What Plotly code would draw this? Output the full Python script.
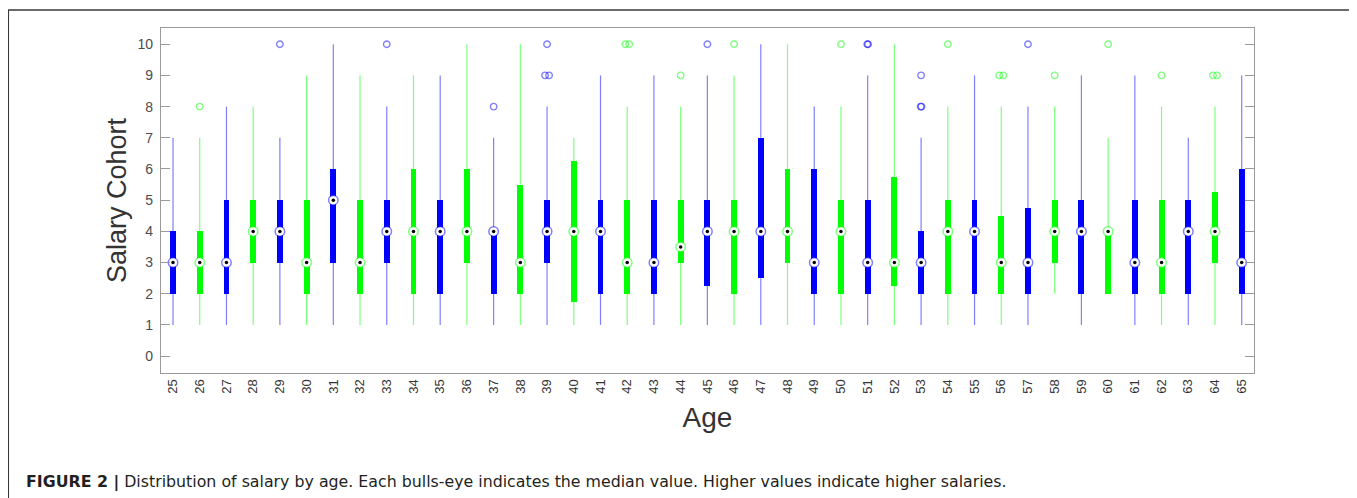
import plotly.graph_objects as go

# ---------------- data ----------------
ages = list(range(25, 66))
q1 = [2, 2, 2, 3, 3, 2, 3, 2, 3, 2,
      2, 3, 2, 2, 3, 1.75, 2, 2, 2, 3,
      2.25, 2, 2.5, 3, 2, 2, 2, 2.25, 2, 2,
      2, 2, 2, 3, 2, 2, 2, 2, 2, 3, 2]
median = [3, 3, 3, 4, 4, 3, 5, 3, 4, 4,
          4, 4, 4, 3, 4, 4, 4, 3, 3, 3.5,
          4, 4, 4, 4, 3, 4, 3, 3, 3, 4,
          4, 3, 3, 4, 4, 4, 3, 3, 4, 4, 3]
q3 = [4, 4, 5, 5, 5, 5, 6, 5, 5, 6,
      5, 6, 4, 5.5, 5, 6.25, 5, 5, 5, 5,
      5, 5, 7, 6, 6, 5, 5, 5.75, 4, 5,
      5, 4.5, 4.75, 5, 5, 4, 5, 5, 5, 5.25, 6]
whisker_low = [1, 1, 1, 1, 1, 1, 1, 1, 1, 1,
               1, 1, 1, 1, 1, 1, 1, 1, 1, 1,
               1, 1, 1, 1, 1, 1, 1, 1, 1, 1,
               1, 1, 1, 2, 1, 2, 1, 1, 1, 1, 1]
whisker_high = [7, 7, 8, 8, 7, 9, 10, 9, 8, 9,
                9, 10, 7, 10, 8, 7, 9, 8, 9, 8,
                9, 9, 10, 10, 8, 8, 9, 10, 7, 8,
                9, 8, 8, 8, 9, 7, 9, 8, 7, 8, 9]
outlier_age = [26, 29, 33, 37, 39, 39, 39, 42, 42, 44, 45, 46, 50, 51, 51,
               53, 53, 53, 54, 56, 56, 57, 58, 60, 62, 64, 64]
outlier_val = [8, 10, 10, 8, 9, 9, 10, 10, 10, 9, 10, 10, 10, 10, 10,
               8, 8, 9, 10, 9, 9, 10, 9, 10, 9, 9, 9]
tight_overlap_ages = [51, 53]   # repeated outliers drawn almost on top of each other

y_ticks = list(range(0, 11))
caption_bold = "FIGURE 2 |"
caption_text = " Distribution of salary by age. Each bulls-eye indicates the median value. Higher values indicate higher salaries."

# ---------------- styling ----------------
BLUE, GREEN = "#0000ff", "#00ff00"
BLUE_L, GREEN_L = "rgba(0,0,255,0.5)", "rgba(0,255,0,0.5)"
FONT = "Liberation Sans, Arial, sans-serif"
AXIS_C = "#9a9a9a"

fig = go.Figure()

groups = [(1, BLUE, BLUE_L), (0, GREEN, GREEN_L)]   # odd ages blue, even ages green
for parity, col, col_l in groups:
    idx = [i for i, a in enumerate(ages) if a % 2 == parity]
    wx, wy = [], []
    for i in idx:
        wx += [ages[i], ages[i], None, ages[i], ages[i], None]
        wy += [whisker_low[i], q1[i], None, q3[i], whisker_high[i], None]
    fig.add_trace(go.Scatter(x=wx, y=wy, mode="lines",
                             line=dict(color=col_l, width=1.2),
                             hoverinfo="skip", showlegend=False))
    fig.add_trace(go.Bar(x=[ages[i] for i in idx],
                         y=[q3[i] - q1[i] for i in idx],
                         base=[q1[i] for i in idx],
                         width=0.22, marker=dict(color=col, line=dict(width=0)),
                         showlegend=False, hoverinfo="skip"))

# outliers
seen = {}
for a, v in zip(outlier_age, outlier_val):
    seen[(a, v)] = seen.get((a, v), 0) + 1
counter = {}
for parity, col, col_l in groups:
    ox, oy = [], []
    for a, v in zip(outlier_age, outlier_val):
        if a % 2 != parity:
            continue
        n = seen[(a, v)]
        k = counter.get((a, v), 0)
        counter[(a, v)] = k + 1
        step = 0.03 if a in tight_overlap_ages else 0.15
        ox.append(a + (k - (n - 1) / 2) * step)
        oy.append(v)
    fig.add_trace(go.Scatter(x=ox, y=oy, mode="markers",
                             marker=dict(symbol="circle-open", size=6.5,
                                         color=col_l, line=dict(width=1.4, color=col_l)),
                             hoverinfo="skip", showlegend=False))

# medians (bulls-eye)
for parity, col, col_l in groups:
    idx = [i for i, a in enumerate(ages) if a % 2 == parity]
    fig.add_trace(go.Scatter(x=[ages[i] for i in idx], y=[median[i] for i in idx],
                             mode="markers",
                             marker=dict(symbol="circle", size=9.5, color="white",
                                         line=dict(width=1.5, color=col_l)),
                             hoverinfo="skip", showlegend=False))
fig.add_trace(go.Scatter(x=ages, y=median, mode="markers",
                         marker=dict(symbol="circle", size=3.5, color="black",
                                     line=dict(width=0)),
                         hoverinfo="skip", showlegend=False))

# outer figure frame and caption
fig.add_shape(type="path", xref="paper", yref="paper",
              path="M -0.1397 -0.40 L -0.1397 1.052 L 1.0932 1.052 L 1.0932 -0.40",
              line=dict(color="#3a3a3a", width=1.5))
fig.add_annotation(xref="paper", yref="paper", x=-0.125, y=-0.315,
                   xanchor="left", yanchor="middle", showarrow=False,
                   text="<b>" + caption_bold + "</b>" + caption_text,
                   font=dict(family="DejaVu Sans, sans-serif", size=15.8, color="#231f20"))

fig.update_layout(
    width=1349, height=490,
    margin=dict(l=153, r=103, t=20, b=125),
    paper_bgcolor="white", plot_bgcolor="white",
    barmode="overlay", bargap=0,
    font=dict(family=FONT, color="#4d4d4d"),
)
fig.update_xaxes(
    range=[24.55, 65.46], tickmode="array", tickvals=ages,
    ticktext=[str(a) for a in ages], tickangle=-90,
    tickfont=dict(size=13, color="#333333"), ticks="", showgrid=False, zeroline=False,
    showline=True, linecolor=AXIS_C, linewidth=1.3, mirror=True,
    title=dict(text="Age", font=dict(size=28, color="#333333"), standoff=14),
)
fig.update_yaxes(
    range=[-0.54, 10.52], tickmode="array", tickvals=y_ticks,
    ticktext=[str(t) for t in y_ticks],
    tickfont=dict(size=14, color="#4d4d4d"), ticks="inside", ticklen=9,
    tickcolor=AXIS_C, tickwidth=1.2, ticklabelstandoff=4,
    showgrid=False, zeroline=False,
    showline=True, linecolor=AXIS_C, linewidth=1.3, mirror="ticks",
    title=dict(text="Salary Cohort", font=dict(size=27, color="#333333"), standoff=3),
)

fig.write_html("out.html")
